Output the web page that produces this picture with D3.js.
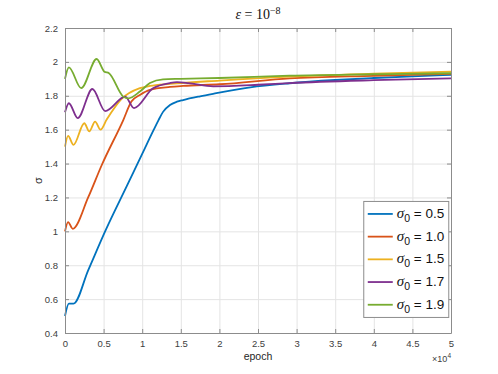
<!DOCTYPE html>
<html>
<head>
  <meta charset="utf-8">
  <script src="https://d3js.org/d3.v7.min.js"></script>
  <style>
  body { margin:0; background:#fff; }
  .axis text { font-family: "Liberation Sans", Arial, sans-serif; font-size: 9.5px; fill: #404040; }
  .axis path, .axis line { stroke: #8c8c8c; }
  .grid line { stroke: #e4e4e4; }
  .grid path { display: none; }
</style>
</head>
<body>
<script>

  var margin = {top: 28, right: 47, bottom: 41, left: 65},
    width = 498 - margin.left - margin.right,
    height = 374 - margin.top - margin.bottom;

  // epoch in units of 1e4
  var xTicks = [0, 0.5, 1, 1.5, 2, 2.5, 3, 3.5, 4, 4.5, 5];
  var yTicks = [0.4, 0.6, 0.8, 1, 1.2, 1.4, 1.6, 1.8, 2, 2.2];

  var names = ["0.5", "1.0", "1.5", "1.7", "1.9"];
  var colors = ["#0072BD", "#D95319", "#EDB120", "#7E2F8E", "#77AC30"];

  var x05 = [0, 0.05, 0.11, 0.3, 0.53, 0.8, 1.0, 1.15, 1.21, 1.27, 1.36, 1.45, 1.53, 1.75, 1.96, 2.4, 2.91, 3.5, 4, 4.5, 5];
  var y05 = [0.5, 0.573, 0.573, 0.77, 1.01, 1.267, 1.457, 1.6, 1.655, 1.705, 1.746, 1.765, 1.775, 1.797, 1.815, 1.85, 1.874, 1.893, 1.905, 1.915, 1.923];

  var x10 = [0, 0.04, 0.1, 0.3, 0.475, 0.755, 0.86, 0.97, 1.1, 1.36, 1.53, 2, 2.91, 4, 5];
  var y10 = [1.0, 1.054, 1.015, 1.2, 1.39, 1.657, 1.766, 1.805, 1.835, 1.852, 1.858, 1.868, 1.903, 1.918, 1.929];

  var x15 = [0, 0.04, 0.11, 0.25, 0.315, 0.39, 0.46, 0.54, 0.73, 0.97, 1.1, 1.36, 2, 2.91, 4, 5];
  var y15 = [1.5, 1.563, 1.51, 1.638, 1.59, 1.648, 1.6, 1.66, 1.78, 1.845, 1.858, 1.87, 1.89, 1.913, 1.93, 1.942];

  var x17 = [0, 0.05, 0.165, 0.355, 0.52, 0.78, 0.894, 1.14, 1.36, 1.45, 1.6, 1.92, 2.5, 2.91, 4, 5];
  var y17 = [1.703, 1.756, 1.668, 1.84, 1.71, 1.795, 1.727, 1.844, 1.875, 1.88, 1.875, 1.856, 1.865, 1.875, 1.892, 1.903];

  var x19 = [0, 0.05, 0.21, 0.41, 0.51, 0.57, 0.755, 0.82, 0.97, 1.1, 1.27, 1.5, 2, 2.91, 4, 5];
  var y19 = [1.9, 1.968, 1.845, 2.017, 1.942, 1.933, 1.795, 1.785, 1.825, 1.875, 1.897, 1.9, 1.905, 1.919, 1.927, 1.933];

  var xs = [x05, x10, x15, x17, x19];
  var ys = [y05, y10, y15, y17, y19];

  var series = names.map((n, i) => ({
    name: n, color: colors[i],
    values: xs[i].map((v, j) => ({x: v, y: ys[i][j]}))
  }));

  var root = d3.select("body").append("svg")
    .attr("width", 498)
    .attr("height", 374);

  var svg = root.append("g")
    .attr("transform", "translate(" + margin.left + "," + margin.top + ")");

  var x = d3.scaleLinear().domain([0, 5]).range([0, width]);
  var y = d3.scaleLinear().domain([0.4, 2.2]).range([height, 0]);

  // grid
  svg.append("g").attr("class", "grid")
    .attr("transform", "translate(0," + height + ")")
    .call(d3.axisBottom(x).tickValues(xTicks).tickSize(-height).tickFormat(""));
  svg.append("g").attr("class", "grid")
    .call(d3.axisLeft(y).tickValues(yTicks).tickSize(-width).tickFormat(""));

  var line = d3.line()
    .x(d => x(d.x))
    .y(d => y(d.y))
    .curve(d3.curveMonotoneX);

  svg.selectAll(".series")
    .data(series)
    .enter().append("path")
    .attr("class", "series")
    .attr("fill", "none")
    .attr("stroke", d => d.color)
    .attr("stroke-width", 1.8)
    .attr("d", d => line(d.values));

  // axes (box with inward ticks)
  svg.append("g").attr("class", "axis")
    .attr("transform", "translate(0," + height + ")")
    .call(d3.axisBottom(x).tickValues(xTicks).tickSizeInner(-4).tickSizeOuter(0).tickPadding(7).tickFormat(d3.format("")));
  svg.append("g").attr("class", "axis")
    .call(d3.axisTop(x).tickValues(xTicks).tickSizeInner(-4).tickSizeOuter(0).tickFormat(""));
  svg.append("g").attr("class", "axis")
    .call(d3.axisLeft(y).tickValues(yTicks).tickSizeInner(-4).tickSizeOuter(0).tickPadding(7).tickFormat(d3.format("")));
  svg.append("g").attr("class", "axis")
    .attr("transform", "translate(" + width + ",0)")
    .call(d3.axisRight(y).tickValues(yTicks).tickSizeInner(-4).tickSizeOuter(0).tickFormat(""));

  // title
  var title = svg.append("text")
    .attr("x", width / 2)
    .attr("y", -9)
    .attr("text-anchor", "middle")
    .style("font-family", "'Liberation Serif', 'DejaVu Serif', serif")
    .style("font-size", "14px")
    .style("fill", "#111");
  title.append("tspan").style("font-style", "italic").text("\u03b5");
  title.append("tspan").text(" = 10");
  title.append("tspan").attr("dy", -5).style("font-size", "10px").text("\u22128");

  // axis labels
  svg.append("text")
    .attr("x", width / 2)
    .attr("y", height + 27)
    .attr("text-anchor", "middle")
    .style("font-family", "'Liberation Sans', Arial, sans-serif")
    .style("font-size", "10.5px")
    .style("fill", "#262626")
    .text("epoch");

  svg.append("text")
    .attr("transform", "translate(-23," + (height / 2) + ") rotate(-90)")
    .attr("text-anchor", "middle")
    .style("font-family", "'Liberation Sans', Arial, sans-serif")
    .style("font-size", "11px")
    .style("fill", "#262626")
    .text("\u03c3");

  var expo = svg.append("text")
    .attr("x", width)
    .attr("y", height + 29)
    .attr("text-anchor", "end")
    .style("font-family", "'Liberation Sans', Arial, sans-serif")
    .style("font-size", "9px")
    .style("fill", "#404040");
  expo.append("tspan").text("\u00d710");
  expo.append("tspan").attr("dy", -4).style("font-size", "6.5px").text("4");

  // legend
  var lg = svg.append("g")
    .attr("transform", "translate(" + (x(3.87)) + "," + (y(1.2) + 4) + ")");
  lg.append("rect")
    .attr("width", 85)
    .attr("height", 116)
    .attr("fill", "#fff")
    .attr("stroke", "#8c8c8c")
    .attr("stroke-width", 1);

  var items = lg.selectAll(".item")
    .data(series)
    .enter().append("g")
    .attr("class", "item")
    .attr("transform", (d, i) => "translate(0," + (12.5 + i * 22.7) + ")");

  items.append("line")
    .attr("x1", 4).attr("x2", 29)
    .attr("y1", 0).attr("y2", 0)
    .attr("stroke", d => d.color)
    .attr("stroke-width", 1.8);

  var lt = items.append("text")
    .attr("x", 33)
    .attr("y", 4)
    .style("font-family", "'Liberation Sans', Arial, sans-serif")
    .style("font-size", "13.5px")
    .style("fill", "#111");
  lt.append("tspan").style("font-family", "'Liberation Serif', serif").style("font-style", "italic").style("font-size", "15px").text("\u03c3");
  lt.append("tspan").attr("dy", 4).style("font-size", "10.5px").text("0");
  lt.append("tspan").attr("dy", -4).text(d => " = " + d.name);

</script>
</body>
</html>
